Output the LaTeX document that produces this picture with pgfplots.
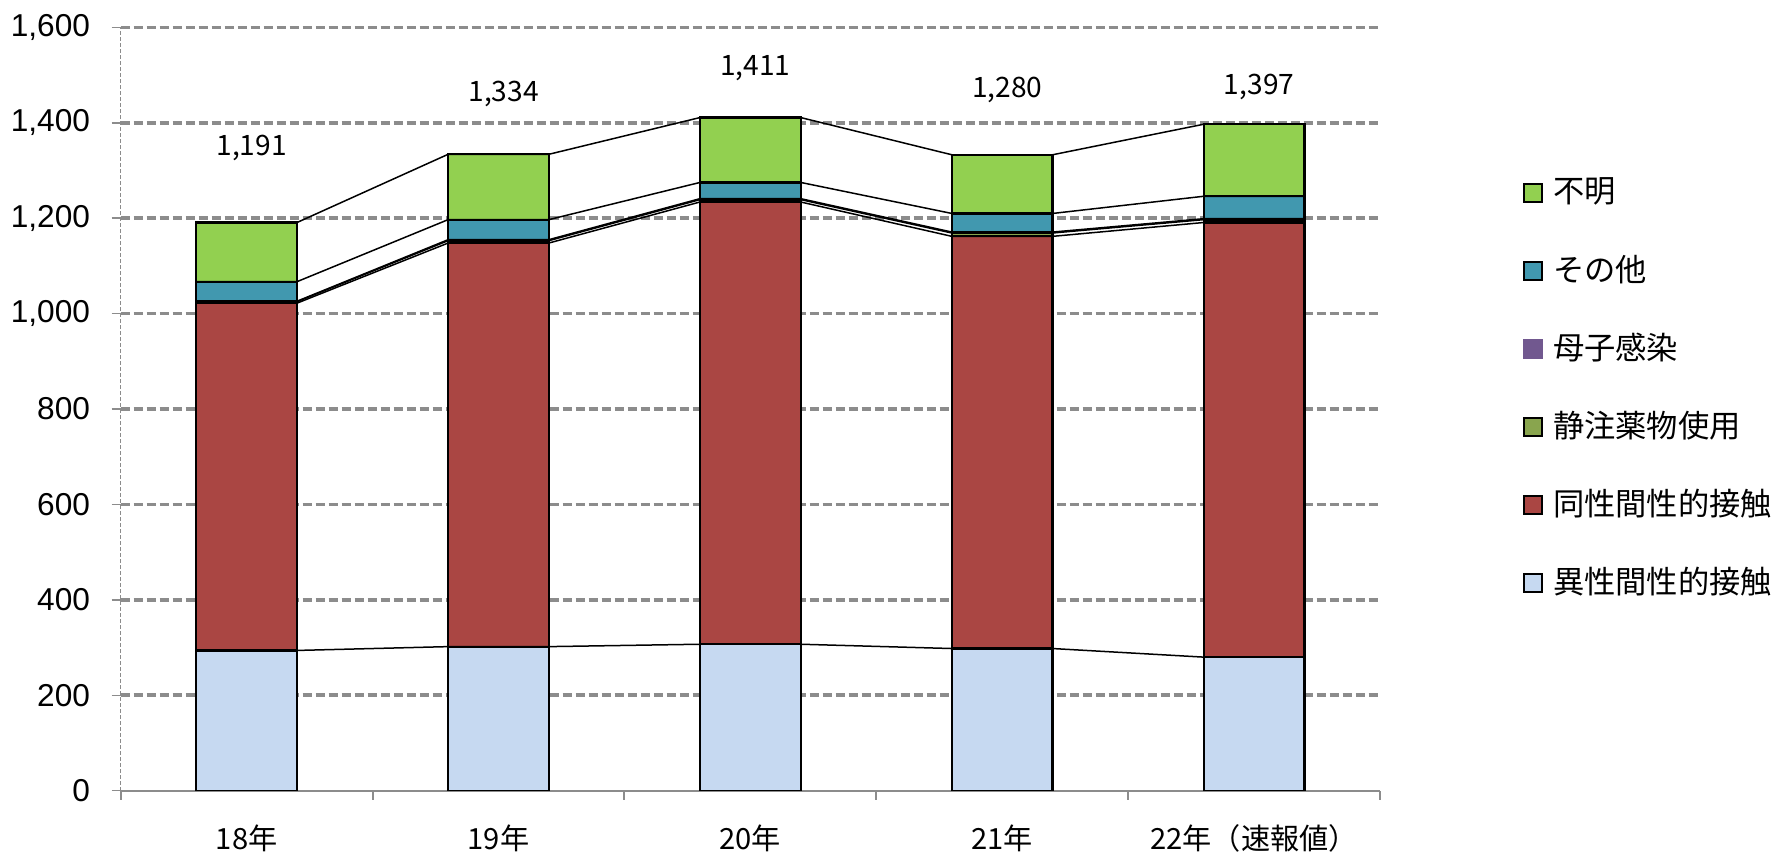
\documentclass[border=0pt]{standalone}
\usepackage{pgfplots}
\pgfplotsset{compat=1.18}
\usepackage{fontspec}
\setmainfont{Liberation Sans}
\newfontfamily\jp{Noto Sans CJK JP}
\definecolor{cHet}{HTML}{C6D9F1}
\definecolor{cHom}{HTML}{AA4643}
\definecolor{cIDU}{HTML}{89A54E}
\definecolor{cMot}{HTML}{71588F}
\definecolor{cOth}{HTML}{4198AF}
\definecolor{cUnk}{HTML}{92D050}
\definecolor{gridgray}{HTML}{8C8C8C}
\begin{document}
\begin{tikzpicture}
\useasboundingbox (-12.07mm,-6.93mm) rectangle (166.93mm,79.07mm);
\begin{axis}[
  at={(0,0)}, anchor=south west,
  scale only axis, width=125.93mm, height=76.33mm,
  xmin=-0.5, xmax=4.5, ymin=0, ymax=1600,
  ybar stacked, bar width=0.4,
  axis lines=left, axis line style={-},
  x axis line style={draw=gridgray, line width=0.2mm},
  y axis line style={draw=gridgray, line width=0.1mm, dash pattern=on 0.4mm off 0.2mm},
  ymajorgrids, major grid style={draw=gridgray, line width=0.36mm, dash pattern=on 0.9mm off 0.4mm},
  xtick={0,...,4},
  xticklabels={18年,19年,20年,21年,22年（速報値）},
  minor xtick={-0.5,0.5,1.5,2.5,3.5,4.5},
  ytick={200,400,...,1600},
  extra y ticks={0}, extra y tick style={grid=none},
  tick align=outside,
  major tick length=0.9mm, minor tick length=0.9mm,
  major x tick style={draw=none},
  minor x tick style={draw=gridgray, line width=0.2mm},
  major y tick style={draw=gridgray, line width=0.15mm},
  /pgf/number format/1000 sep={,},
  /pgf/number format/assume math mode=true,
  yticklabel style={font=\fontsize{9}{10}\selectfont, inner sep=0pt, anchor=east, xshift=-2.1mm},
  xticklabel style={font=\jp\fontsize{8.3}{10}\selectfont, inner sep=0pt, anchor=center, yshift=-3.9mm},
  legend image code/.code={\draw[#1,line width=0.2mm] (0mm,-0.9mm) rectangle (1.8mm,0.9mm);},
  reverse legend,
  legend cell align=left,
  legend style={at={(1.1135,0.834)}, anchor=north west, draw=none, fill=none,
    inner sep=0pt, outer sep=0pt, row sep=0pt,
    font=\jp\fontsize{8.9}{10}\selectfont,
    nodes={inner sep=0pt, minimum height=7.8mm},
    /tikz/column 1/.style={column sep=1mm}},
  every axis plot/.append style={draw=black, line width=0.22mm},
]
\addplot[fill=cHet] coordinates {(0,294) (1,302) (2,307) (3,298) (4,280)};
\addlegendentry{異性間性的接触}
\addplot[fill=cHom] coordinates {(0,728) (1,846) (2,927) (3,864) (4,911)};
\addlegendentry{同性間性的接触}
\addplot[fill=cIDU] coordinates {(0,3) (1,5) (2,5) (3,7) (4,6)};
\addlegendentry{静注薬物使用}
\addplot[fill=cMot, legend image code/.code={\fill[cMot] (0mm,-0.9mm) rectangle (1.8mm,0.9mm);}] coordinates {(0,1) (1,2) (2,2) (3,2) (4,2)};
\addlegendentry{母子感染}
\addplot[fill=cOth] coordinates {(0,41) (1,42) (2,34) (3,39) (4,47)};
\addlegendentry{その他}
\addplot[fill=cUnk] coordinates {(0,124) (1,137) (2,136) (3,123) (4,151)};
\addlegendentry{不明}
\node[font=\jp\fontsize{8}{9}\selectfont] at (axis cs:0.02,1347) {1,191};
\node[font=\jp\fontsize{8}{9}\selectfont] at (axis cs:1.02,1460) {1,334};
\node[font=\jp\fontsize{8}{9}\selectfont] at (axis cs:2.02,1514) {1,411};
\node[font=\jp\fontsize{8}{9}\selectfont] at (axis cs:3.02,1468) {1,280};
\node[font=\jp\fontsize{8}{9}\selectfont] at (axis cs:4.02,1476) {1,397};
\end{axis}
\begin{axis}[
  at={(0,0)}, anchor=south west,
  scale only axis, width=125.93mm, height=76.33mm,
  xmin=-0.5, xmax=4.5, ymin=0, ymax=1600,
  hide axis, stack plots=y,
]
\addplot[black, line width=0.15mm] coordinates {(-0.2,294) (0.2,294) (0.8,302) (1.2,302) (1.8,307) (2.2,307) (2.8,298) (3.2,298) (3.8,280) (4.2,280)};
\addplot[black, line width=0.15mm] coordinates {(-0.2,728) (0.2,728) (0.8,846) (1.2,846) (1.8,927) (2.2,927) (2.8,864) (3.2,864) (3.8,911) (4.2,911)};
\addplot[black, line width=0.15mm] coordinates {(-0.2,3) (0.2,3) (0.8,5) (1.2,5) (1.8,5) (2.2,5) (2.8,7) (3.2,7) (3.8,6) (4.2,6)};
\addplot[black, line width=0.15mm] coordinates {(-0.2,1) (0.2,1) (0.8,2) (1.2,2) (1.8,2) (2.2,2) (2.8,2) (3.2,2) (3.8,2) (4.2,2)};
\addplot[black, line width=0.15mm] coordinates {(-0.2,41) (0.2,41) (0.8,42) (1.2,42) (1.8,34) (2.2,34) (2.8,39) (3.2,39) (3.8,47) (4.2,47)};
\addplot[black, line width=0.15mm] coordinates {(-0.2,124) (0.2,124) (0.8,137) (1.2,137) (1.8,136) (2.2,136) (2.8,123) (3.2,123) (3.8,151) (4.2,151)};
\end{axis}
\end{tikzpicture}
\end{document}
